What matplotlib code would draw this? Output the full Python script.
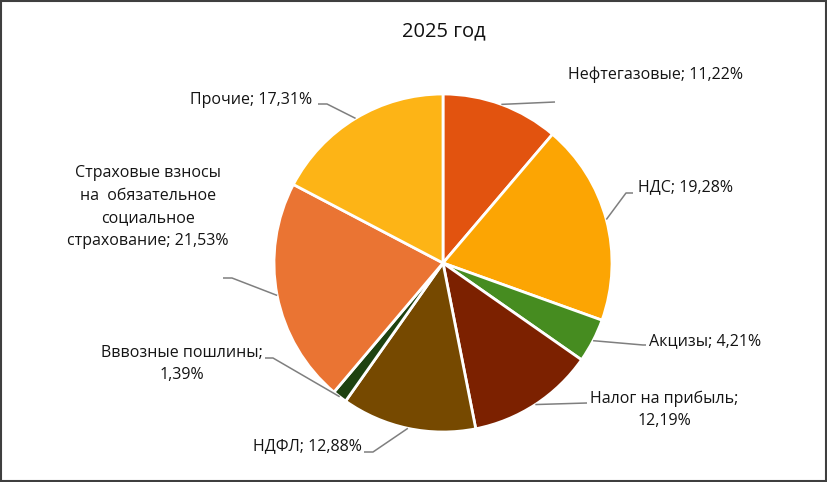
import numpy as np
import matplotlib
matplotlib.use("Agg")
import matplotlib.pyplot as plt
from matplotlib.patches import Rectangle

plt.rcParams['font.family'] = ['Open Sans', 'DejaVu Sans']

# ---- data ----
title = "2025 год"
labels = ["Нефтегазовые", "НДС", "Акцизы", "Налог на прибыль", "НДФЛ",
          "Вввозные пошлины", "Страховые взносы\nна  обязательное\nсоциальное\nстрахование", "Прочие"]
values = [11.22, 19.28, 4.21, 12.19, 12.88, 1.39, 21.53, 17.31]
colors = ["#E2530F", "#FCA503", "#468C20", "#7C2100", "#764900", "#1E4210", "#EA7433", "#FDB416"]

# ---- layout (pixel positions) ----
W, H = 828, 482
cx, cy, R = 443, 263, 169
label_pos = [(656, 75), (686, 187), (705, 341), (664, 410), (307, 446),
             (182, 364), (148, 207), (251, 100)]
two_line = [False, False, False, True, False, True, False, False]
leaders = [
    [(555, 102)],
    [(626, 193), (633, 193)],
    [(643, 345), (646, 345)],
    [(587, 403)],
    [(373, 452), (364, 452)],
    [(273, 358), (265, 358)],
    [(232, 278), (223, 278)],
    [(327, 104), (318, 104)],
]

def fmt(v):
    return f"{v:.2f}".replace(".", ",") + "%"

def P(x, y):
    return (x, H - y)

fig = plt.figure(figsize=(W / 100, H / 100), dpi=100)
ax = fig.add_axes([0, 0, 1, 1])
wedges, _ = ax.pie(values, colors=colors, startangle=90, counterclock=False,
                   center=P(cx, cy), radius=R,
                   wedgeprops=dict(edgecolor="white", linewidth=2))
ax.set_xlim(0, W)
ax.set_ylim(0, H)
ax.set_aspect("equal")
ax.axis("off")

for w, lab, v, pos, tl, pts in zip(wedges, labels, values, label_pos, two_line, leaders):
    th = np.deg2rad((w.theta1 + w.theta2) / 2)
    ax0 = cx + R * np.cos(th)
    ay0 = (H - cy) + R * np.sin(th)
    xs = [ax0] + [p[0] for p in pts]
    ys = [ay0] + [H - p[1] for p in pts]
    ax.plot(xs, ys, color="#7F7F7F", lw=1.1, solid_capstyle="butt")
    sep = ";\n" if tl else "; "
    txt = f"{lab}{sep}{fmt(v)}"
    ax.text(*P(*pos), txt, ha="center", va="center", fontsize=11.5,
            color="#141414", linespacing=1.55, multialignment="center")

ax.text(*P(444, 31), title, ha="center", va="center", fontsize=14.5, color="#111111")

fig.patches.append(Rectangle((0.001, 0.002), 0.997, 0.995, transform=fig.transFigure,
                             fill=False, edgecolor="#3F3F3F", lw=1.5))

fig.savefig("out.png", dpi=100)
